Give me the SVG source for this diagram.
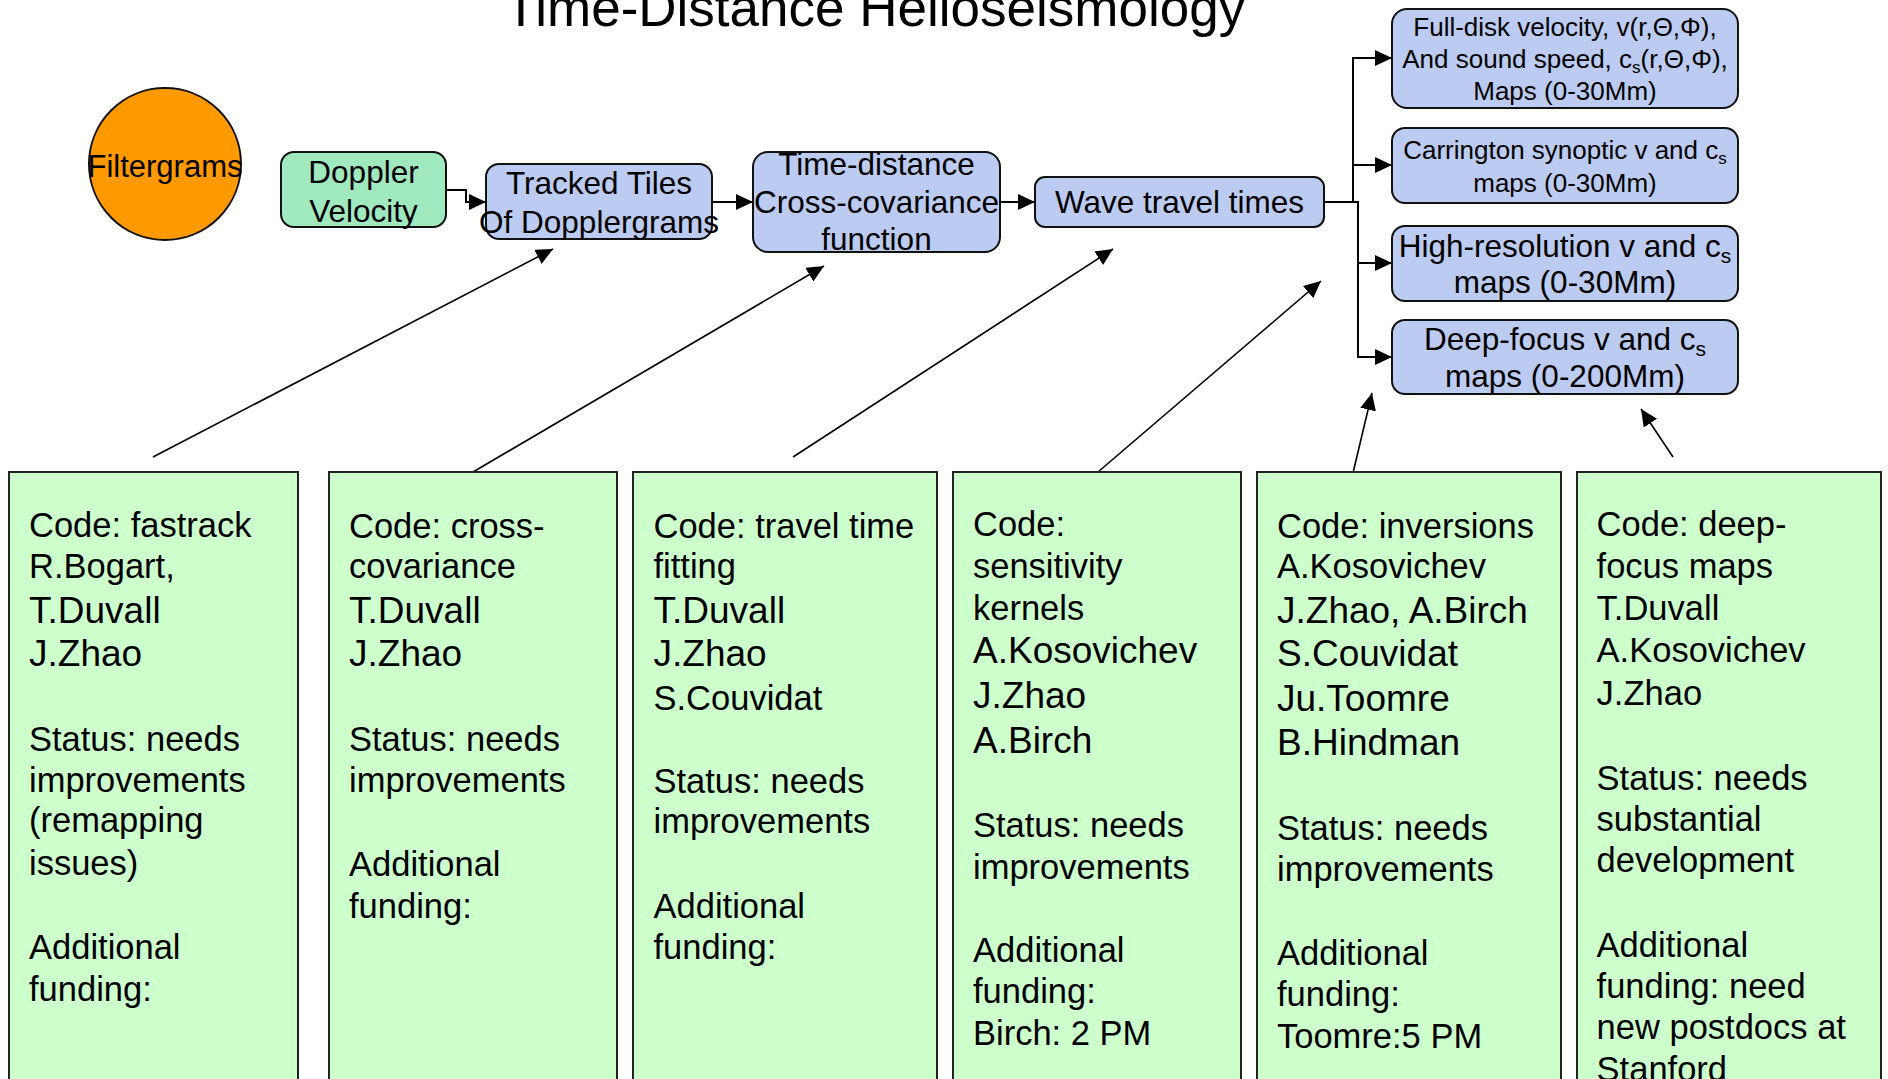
<svg xmlns="http://www.w3.org/2000/svg" width="1888" height="1079" viewBox="0 0 1888 1079">
<style>
text{font-family:"Liberation Sans",Arial,sans-serif;fill:#000}
.t{font-size:53px}
.c{text-anchor:middle}
.m{font-size:31.5px}
.s{font-size:26px}
.b{font-size:34.5px}
.n{font-size:37px}
.blue{fill:#BBCBF1;stroke:#111;stroke-width:2}
.grn{fill:#A0E9BF;stroke:#111;stroke-width:2}
.pane{fill:#CCFFCC;stroke:#222;stroke-width:2}
.con{fill:none;stroke:#000;stroke-width:2}
.dia{fill:none;stroke:#000;stroke-width:1.6}
</style>
<defs>
<marker id="ah" markerUnits="userSpaceOnUse" markerWidth="18" markerHeight="16" refX="17" refY="8" orient="auto">
<path d="M0,0 L17,8 L0,16 Z" fill="#000"/>
</marker>
</defs>
<rect width="1888" height="1079" fill="#fff"/>
<text class="t c" x="875" y="26">Time-Distance Helioseismology</text>

<g id="connectors">
<path class="con" d="M446,190 H466 V202 H486" marker-end="url(#ah)"/>
<path class="con" d="M712,202 H753" marker-end="url(#ah)"/>
<path class="con" d="M1000,202 H1035" marker-end="url(#ah)"/>
<path class="con" d="M1324,202 H1358 V357 H1392" marker-end="url(#ah)"/>
<path class="con" d="M1353,202 V58 H1392" marker-end="url(#ah)"/>
<path class="con" d="M1353,165 H1392" marker-end="url(#ah)"/>
<path class="con" d="M1358,263 H1392" marker-end="url(#ah)"/>
<path class="dia" d="M153,457 L553,249" marker-end="url(#ah)"/>
<path class="dia" d="M473,472 L824,266" marker-end="url(#ah)"/>
<path class="dia" d="M793,457 L1113,249" marker-end="url(#ah)"/>
<path class="dia" d="M1098,472 L1321,281" marker-end="url(#ah)"/>
<path class="dia" d="M1353,473 L1372,393" marker-end="url(#ah)"/>
<path class="dia" d="M1673,457 L1641,409" marker-end="url(#ah)"/>
</g>

<g id="filtergrams">
<ellipse cx="165" cy="164" rx="76" ry="76" fill="#FF9900" stroke="#111" stroke-width="2"/>
<text class="c" style="font-size:31px" x="165" y="177">Filtergrams</text>
</g>

<g id="doppler">
<rect class="grn" x="281" y="152" width="165" height="75" rx="13"/>
<text class="m c" x="363.5"><tspan x="363.5" y="183">Doppler</tspan><tspan x="363.5" y="222">Velocity</tspan></text>
</g>

<g id="tracked">
<rect class="blue" x="486" y="164" width="226" height="75" rx="13"/>
<text class="m c"><tspan x="599" y="194">Tracked Tiles</tspan><tspan x="599" y="233">Of Dopplergrams</tspan></text>
</g>

<g id="timedistance">
<rect class="blue" x="753" y="152" width="247" height="100" rx="15"/>
<text class="m c"><tspan x="876.5" y="175">Time-distance</tspan><tspan x="876.5" y="213">Cross-covariance</tspan><tspan x="876.5" y="250">function</tspan></text>
</g>

<g id="wave">
<rect class="blue" x="1035" y="177" width="289" height="50" rx="10"/>
<text class="m c" x="1179.5" y="213">Wave travel times</text>
</g>

<g id="fulldisk">
<rect class="blue" x="1392" y="9" width="346" height="99" rx="15"/>
<text class="s c"><tspan x="1565" y="36">Full-disk velocity, v(r,Θ,Φ),</tspan><tspan x="1565" y="68">And sound speed, c<tspan font-size="17" dy="5">s</tspan><tspan dy="-5">(r,Θ,Φ),</tspan></tspan><tspan x="1565" y="100">Maps (0-30Mm)</tspan></text>
</g>

<g id="carrington">
<rect class="blue" x="1392" y="128" width="346" height="75" rx="13"/>
<text class="s c"><tspan x="1565" y="159">Carrington synoptic v and c<tspan font-size="17" dy="5">s</tspan></tspan><tspan x="1565" y="192">maps (0-30Mm)</tspan></text>
</g>

<g id="highres">
<rect class="blue" x="1392" y="226" width="346" height="75" rx="13"/>
<text class="m c"><tspan x="1565" y="257">High-resolution v and c<tspan font-size="21" dy="6">s</tspan></tspan><tspan x="1565" y="293">maps (0-30Mm)</tspan></text>
</g>

<g id="deepfocus">
<rect class="blue" x="1392" y="320" width="346" height="74" rx="13"/>
<text class="m c"><tspan x="1565" y="350">Deep-focus v and c<tspan font-size="21" dy="6">s</tspan></tspan><tspan x="1565" y="387">maps (0-200Mm)</tspan></text>
</g>

<g id="pane-fastrack">
<rect class="pane" x="9" y="472" width="289" height="640"/>
<text class="b">
<tspan x="29" y="537">Code: fastrack</tspan>
<tspan x="29" y="578">R.Bogart,</tspan>
<tspan class="n" x="29" y="623">T.Duvall</tspan>
<tspan class="n" x="29" y="666">J.Zhao</tspan>
<tspan x="29" y="751">Status: needs</tspan>
<tspan x="29" y="792">improvements</tspan>
<tspan x="29" y="832">(remapping</tspan>
<tspan x="29" y="875">issues)</tspan>
<tspan x="29" y="959">Additional</tspan>
<tspan x="29" y="1001">funding:</tspan>
</text>
</g>

<g id="pane-crosscov">
<rect class="pane" x="329" y="472" width="288" height="640"/>
<text class="b">
<tspan x="349" y="537.7">Code: cross-</tspan>
<tspan x="349" y="577.6">covariance</tspan>
<tspan class="n" x="349" y="623">T.Duvall</tspan>
<tspan class="n" x="349" y="666">J.Zhao</tspan>
<tspan x="349" y="751">Status: needs</tspan>
<tspan x="349" y="792">improvements</tspan>
<tspan x="349" y="875.5">Additional</tspan>
<tspan x="349" y="917.5">funding:</tspan>
</text>
</g>

<g id="pane-traveltime">
<rect class="pane" x="633" y="472" width="304" height="640"/>
<text class="b">
<tspan x="653.5" y="537.7">Code: travel time</tspan>
<tspan x="653.5" y="577.6">fitting</tspan>
<tspan class="n" x="653.5" y="623">T.Duvall</tspan>
<tspan class="n" x="653.5" y="666">J.Zhao</tspan>
<tspan x="653.5" y="709.7">S.Couvidat</tspan>
<tspan x="653.5" y="793">Status: needs</tspan>
<tspan x="653.5" y="833">improvements</tspan>
<tspan x="653.5" y="917.5">Additional</tspan>
<tspan x="653.5" y="958.7">funding:</tspan>
</text>
</g>

<g id="pane-kernels">
<rect class="pane" x="953" y="472" width="288" height="640"/>
<text class="b">
<tspan x="973" y="536.4">Code:</tspan>
<tspan x="973" y="577.6">sensitivity</tspan>
<tspan x="973" y="620">kernels</tspan>
<tspan class="n" x="973" y="663">A.Kosovichev</tspan>
<tspan class="n" x="973" y="708">J.Zhao</tspan>
<tspan class="n" x="973" y="753">A.Birch</tspan>
<tspan x="973" y="837">Status: needs</tspan>
<tspan x="973" y="878.6">improvements</tspan>
<tspan x="973" y="962">Additional</tspan>
<tspan x="973" y="1003">funding:</tspan>
<tspan x="973" y="1045">Birch: 2 PM</tspan>
</text>
</g>

<g id="pane-inversions">
<rect class="pane" x="1257" y="472" width="304" height="640"/>
<text class="b">
<tspan x="1277" y="537.7">Code: inversions</tspan>
<tspan x="1277" y="577.6">A.Kosovichev</tspan>
<tspan class="n" x="1277" y="623">J.Zhao, A.Birch</tspan>
<tspan class="n" x="1277" y="666">S.Couvidat</tspan>
<tspan class="n" x="1277" y="711">Ju.Toomre</tspan>
<tspan class="n" x="1277" y="755">B.Hindman</tspan>
<tspan x="1277" y="839.6">Status: needs</tspan>
<tspan x="1277" y="880.7">improvements</tspan>
<tspan x="1277" y="965">Additional</tspan>
<tspan x="1277" y="1006">funding:</tspan>
<tspan x="1277" y="1047.5">Toomre:5 PM</tspan>
</text>
</g>

<g id="pane-deepfocus">
<rect class="pane" x="1577" y="472" width="304" height="640"/>
<text class="b">
<tspan x="1596.6" y="536.4">Code: deep-</tspan>
<tspan x="1596.6" y="577.6">focus maps</tspan>
<tspan x="1596.6" y="620">T.Duvall</tspan>
<tspan x="1596.6" y="662">A.Kosovichev</tspan>
<tspan x="1596.6" y="705">J.Zhao</tspan>
<tspan x="1596.6" y="789.8">Status: needs</tspan>
<tspan x="1596.6" y="831">substantial</tspan>
<tspan x="1596.6" y="872">development</tspan>
<tspan x="1596.6" y="956.5">Additional</tspan>
<tspan x="1596.6" y="997.7">funding: need</tspan>
<tspan x="1596.6" y="1038.8">new postdocs at</tspan>
<tspan x="1596.6" y="1081">Stanford</tspan>
</text>
</g>
</svg>
